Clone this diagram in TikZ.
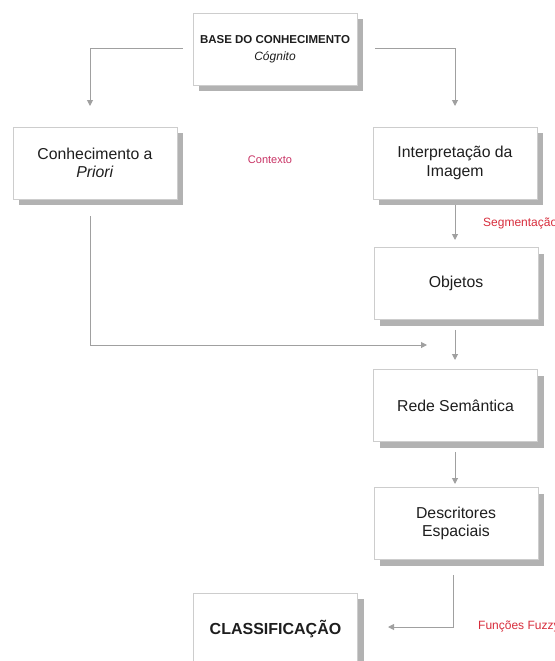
\documentclass[tikz,border=0pt]{standalone}
\usepackage{fontspec}
\setmainfont{Liberation Sans}
\usetikzlibrary{arrows.meta,shadows}
\definecolor{boxline}{RGB}{205,205,205}
\definecolor{shadowc}{RGB}{178,178,178}
\definecolor{connc}{RGB}{160,160,160}
\definecolor{txtc}{RGB}{30,30,30}
\definecolor{redlbl}{RGB}{215,45,60}
\definecolor{pinklbl}{RGB}{200,50,100}
\tikzset{
  stepbox/.style={draw=boxline, line width=0.8pt, fill=white, minimum width=164pt, minimum height=72pt,
    inner sep=0pt, align=center, text=txtc, font=\fontsize{15.8}{18.5}\selectfont,
    drop shadow={shadow xshift=6pt, shadow yshift=-6pt, fill=shadowc, opacity=1}},
  conn/.style={draw=connc, line width=1pt, -{Triangle[width=6pt,length=6pt]}},
  lbl/.style={inner sep=0pt, anchor=west}
}
\begin{document}
\begin{tikzpicture}[x=1pt,y=-1pt]
\useasboundingbox (0,0) rectangle (554,661);
% boxes
\node[stepbox] (base) at (275,49) {{\fontsize{11.5}{13}\selectfont\bfseries BASE DO CONHECIMENTO}\\[-1pt]{\fontsize{12}{13}\selectfont\itshape Cógnito}};
\node[stepbox] (conh) at (95,163) {Conhecimento a\\\textit{Priori}};
\node[stepbox] (interp) at (455,163) {Interpretação da\\Imagem};
\node[stepbox] (obj) at (456,283.5) {Objetos};
\node[stepbox] (rede) at (455.5,405.5) {Rede Semântica};
\node[stepbox] (desc) at (456,523.5) {Descritores\\Espaciais};
\node[stepbox, font=\fontsize{16}{18}\selectfont\bfseries] (class) at (275.5,629) {CLASSIFICAÇÃO};
% labels
\node[lbl, anchor=center, text=pinklbl, font=\fontsize{11}{13}\selectfont] (ctx) at (270,160) {Contexto};
\node[lbl, text=redlbl, font=\fontsize{12}{14}\selectfont] (seg) at (483,223) {Segmentação};
\node[lbl, text=redlbl, font=\fontsize{12}{14}\selectfont] (fuz) at (478,626) {Funções Fuzzy};
% connector end points
\coordinate (a1) at (90,106);
\coordinate (a2) at (455,106);
\coordinate (a3) at (455,240);
\coordinate (a4) at (455,360);
\coordinate (a5) at (427,345);
\coordinate (a6) at (455,484);
\coordinate (a7) at (388,627);
% connectors
\draw[conn] ([xshift=-10pt]base.west) -| (a1);
\draw[conn] ([xshift=18pt]base.east) -| (a2);
\draw[conn] ([yshift=-6pt]interp.south) -- (a3);
\draw[conn] ([xshift=-1pt,yshift=-10pt]obj.south) -- (a4);
\draw[conn] ([xshift=-5pt,yshift=-17pt]conh.south) |- (a5);
\draw[conn] ([xshift=-0.5pt,yshift=-10pt]rede.south) -- (a6);
\draw[conn] ([xshift=-3pt,yshift=-15pt]desc.south) |- (a7);
\end{tikzpicture}
\end{document}
